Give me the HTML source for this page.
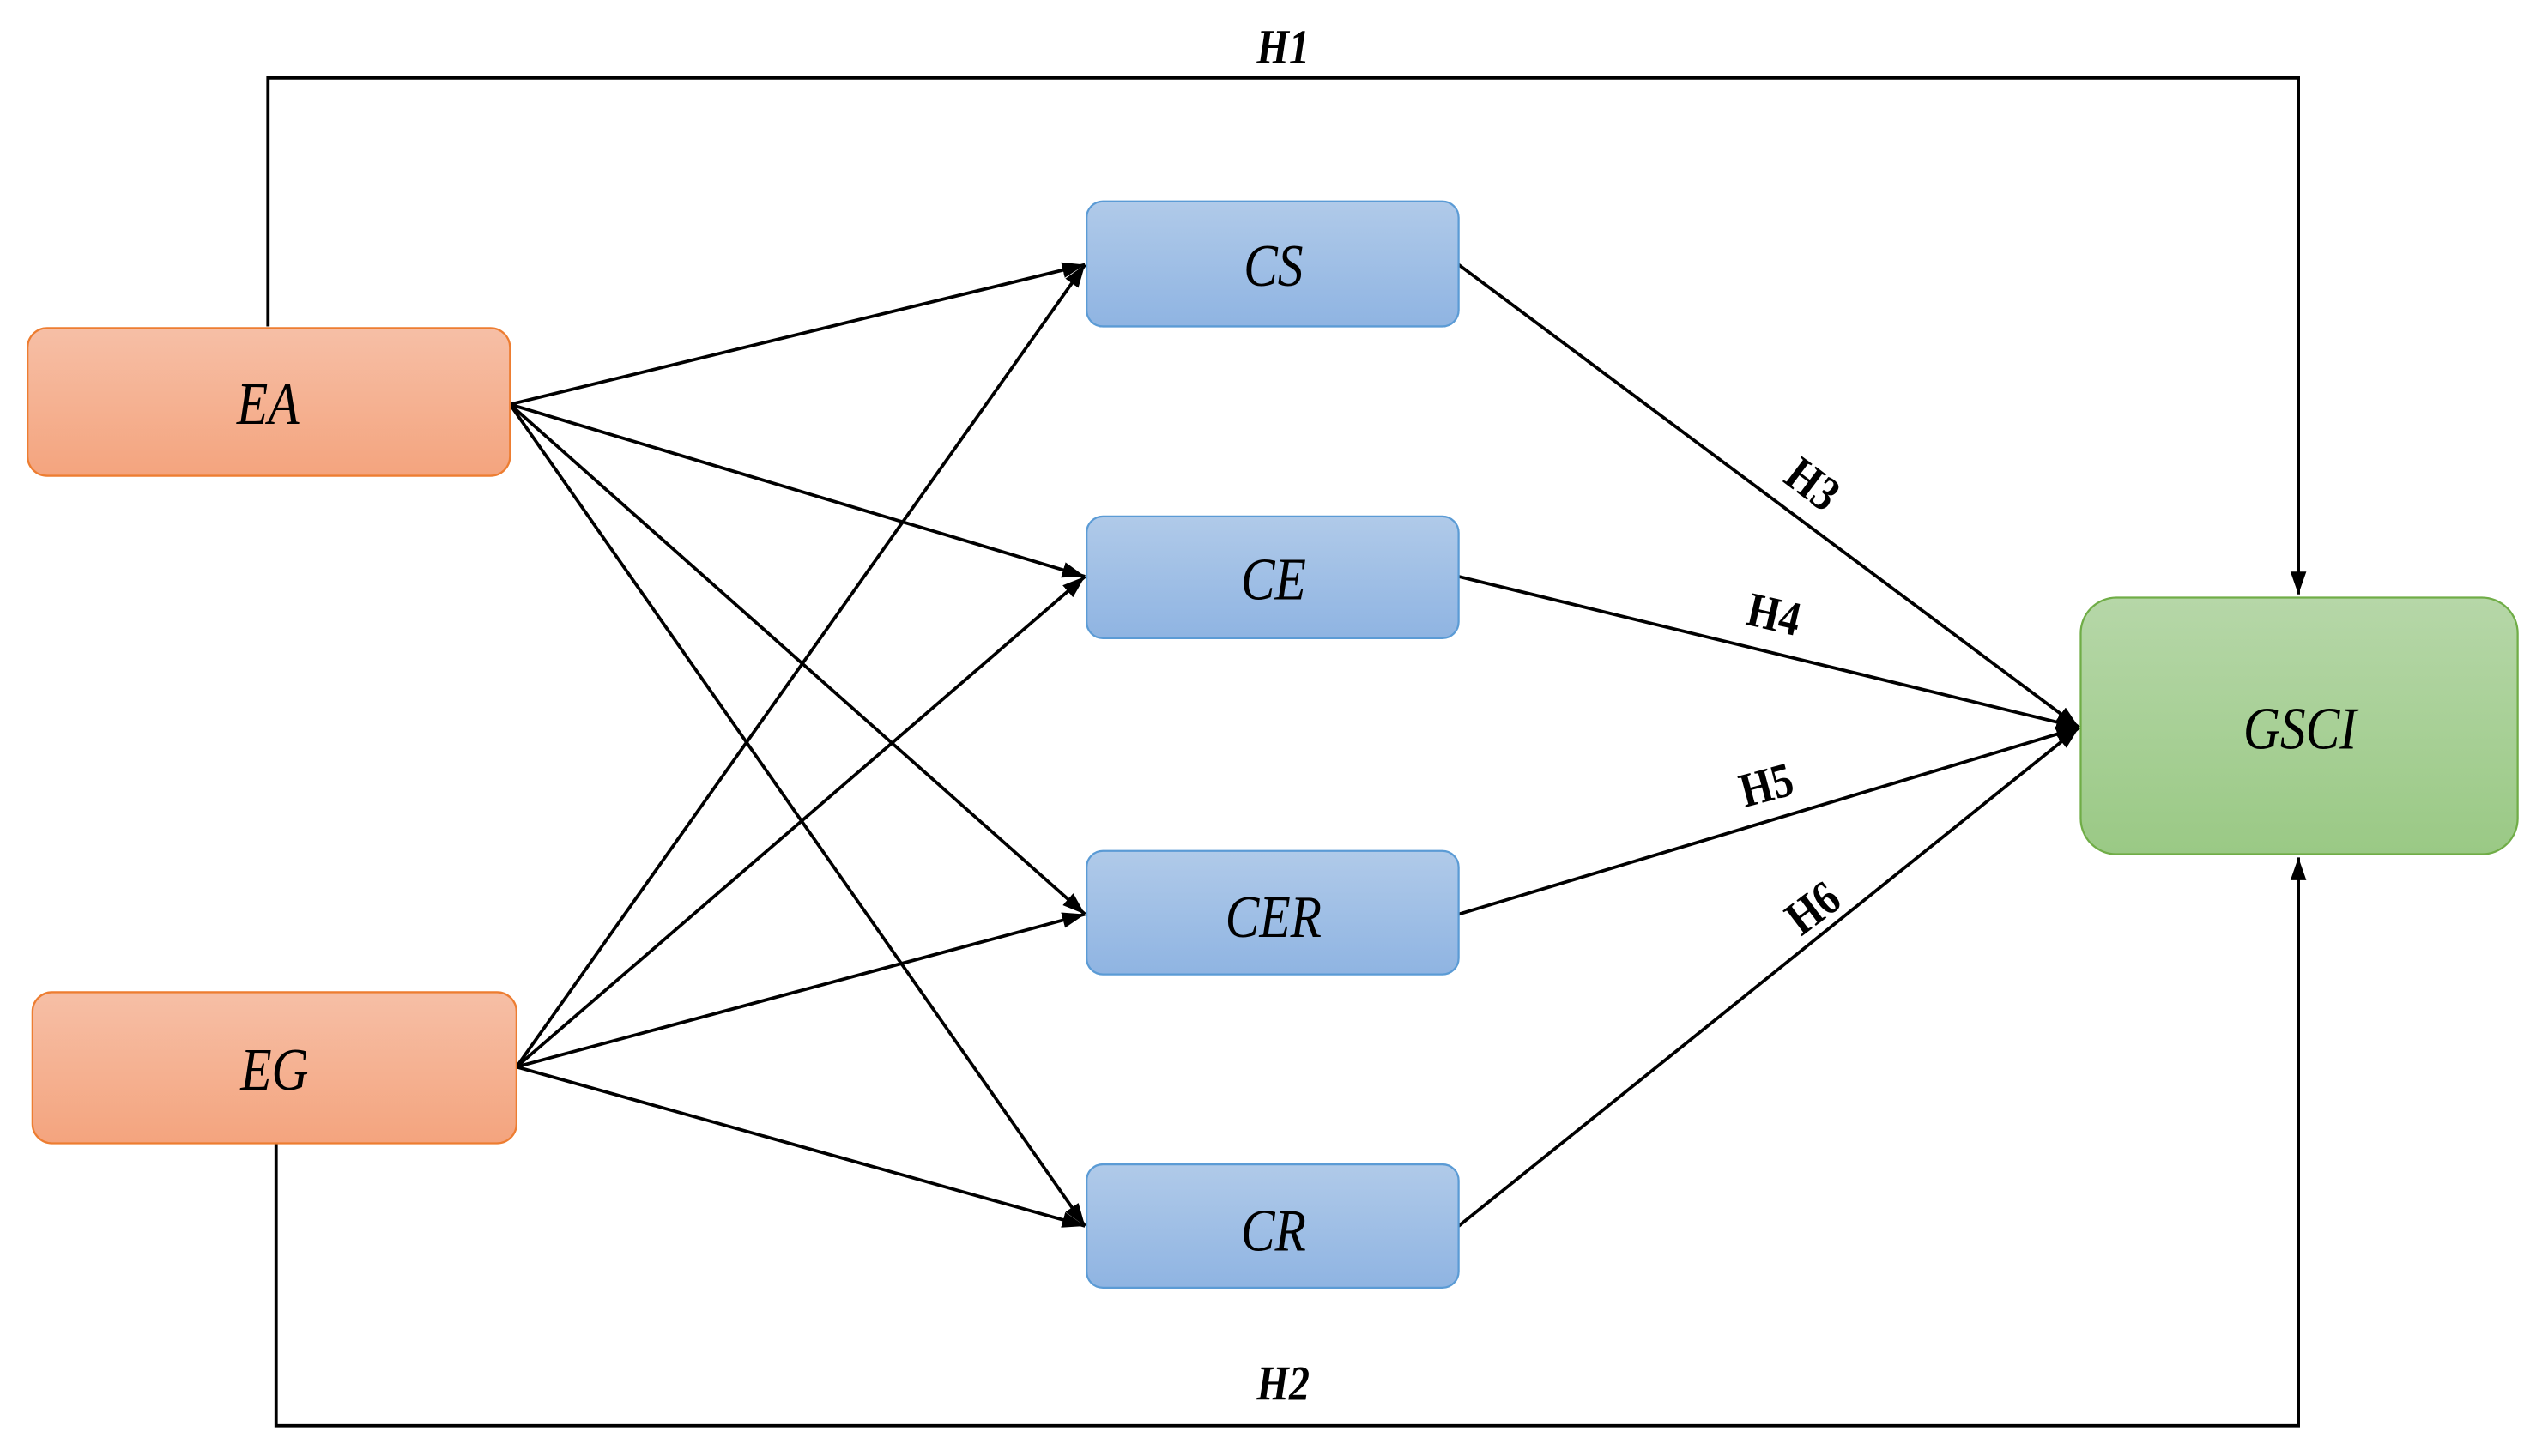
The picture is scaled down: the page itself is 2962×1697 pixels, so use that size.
<!DOCTYPE html>
<html><head><meta charset="utf-8"><style>html,body{margin:0;padding:0;background:#fff}svg{display:block}</style></head>
<body>
<svg width="2962" height="1697" viewBox="0 0 1565 896.6" xmlns="http://www.w3.org/2000/svg">
<defs>
<linearGradient id="o" x1="0" y1="0" x2="0" y2="1"><stop offset="0" stop-color="#f6bfa6"/><stop offset="1" stop-color="#f4a47e"/></linearGradient>
<linearGradient id="b" x1="0" y1="0" x2="0" y2="1"><stop offset="0" stop-color="#b0cae9"/><stop offset="1" stop-color="#8fb4e2"/></linearGradient>
<linearGradient id="g" x1="0" y1="0" x2="0" y2="1"><stop offset="0" stop-color="#b6d7a8"/><stop offset="1" stop-color="#9ac985"/></linearGradient>
<marker id="a" viewBox="0 0 10 10" refX="10" refY="5" markerWidth="7" markerHeight="7" orient="auto" markerUnits="strokeWidth"><path d="M0,1.5 L10,5 L0,8.5 Z" fill="#000"/></marker>
</defs>
<g fill="none" stroke="#000" stroke-width="2">
<polyline points="165,201 165,48 1415,48 1415,366" marker-end="url(#a)"/>
<polyline points="170,704 170,878 1415,878 1415,528" marker-end="url(#a)"/>
<line x1="314" y1="249" x2="668" y2="163" marker-end="url(#a)"/>
<line x1="314" y1="249" x2="668" y2="355" marker-end="url(#a)"/>
<line x1="314" y1="249" x2="668" y2="563" marker-end="url(#a)"/>
<line x1="314" y1="249" x2="668" y2="755" marker-end="url(#a)"/>
<line x1="318" y1="657" x2="668" y2="163" marker-end="url(#a)"/>
<line x1="318" y1="657" x2="668" y2="355" marker-end="url(#a)"/>
<line x1="318" y1="657" x2="668" y2="563" marker-end="url(#a)"/>
<line x1="318" y1="657" x2="668" y2="755" marker-end="url(#a)"/>
<line x1="898" y1="163" x2="1280" y2="448" marker-end="url(#a)"/>
<line x1="898" y1="355" x2="1280" y2="448" marker-end="url(#a)"/>
<line x1="898" y1="563" x2="1280" y2="448" marker-end="url(#a)"/>
<line x1="898" y1="755" x2="1280" y2="448" marker-end="url(#a)"/>
</g>
<g stroke-width="1.2">
<rect x="17" y="202" width="297" height="91" rx="12" fill="url(#o)" stroke="#ed7d31"/>
<rect x="20" y="611" width="298" height="93" rx="12" fill="url(#o)" stroke="#ed7d31"/>
<rect x="669" y="124" width="229" height="77" rx="10" fill="url(#b)" stroke="#5b9bd5"/>
<rect x="669" y="318" width="229" height="75" rx="10" fill="url(#b)" stroke="#5b9bd5"/>
<rect x="669" y="524" width="229" height="76" rx="10" fill="url(#b)" stroke="#5b9bd5"/>
<rect x="669" y="717" width="229" height="76" rx="10" fill="url(#b)" stroke="#5b9bd5"/>
<rect x="1281" y="368" width="269" height="158" rx="22" fill="url(#g)" stroke="#70ad47"/>
</g>
<g font-family="'Liberation Serif',serif" font-style="italic" font-size="37" text-anchor="middle" fill="#000">
<text transform="translate(165,261) scale(0.85,1)">EA</text>
<text transform="translate(169,671) scale(0.85,1)">EG</text>
<text transform="translate(784,176) scale(0.85,1)">CS</text>
<text transform="translate(784,369) scale(0.85,1)">CE</text>
<text transform="translate(784,577) scale(0.85,1)">CER</text>
<text transform="translate(784,770) scale(0.85,1)">CR</text>
<text transform="translate(1416,461) scale(0.85,1)">GSCI</text>
</g>
<g font-family="'Liberation Serif',serif" font-weight="bold" font-size="30" text-anchor="middle" fill="#000">
<text transform="translate(790,39) scale(0.85,1)" font-style="italic">H1</text>
<text transform="translate(790,862) scale(0.85,1)" font-style="italic">H2</text>
<text transform="translate(1110,306) rotate(37) scale(0.85,1)">H3</text>
<text transform="translate(1090,388) rotate(13) scale(0.85,1)">H4</text>
<text transform="translate(1090,493) rotate(-15) scale(0.85,1)">H5</text>
<text transform="translate(1122,567) rotate(-37) scale(0.85,1)">H6</text>
</g>
</svg>
</body></html>
